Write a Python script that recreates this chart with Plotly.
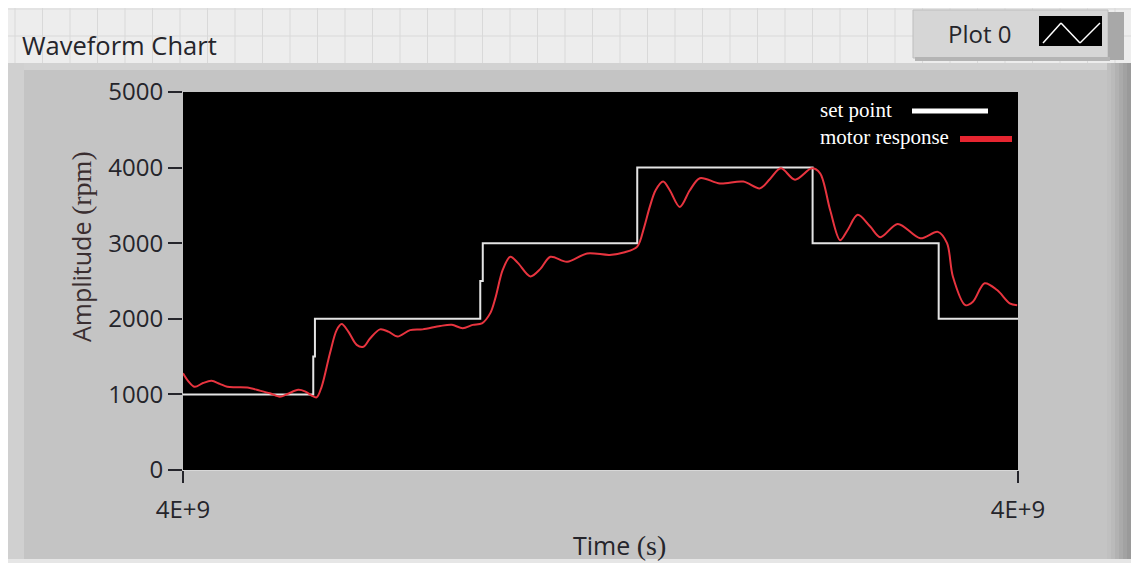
import plotly.graph_objects as go

# ---- data -------------------------------------------------------------
# time axis runs 0..100 (relative units); both ends are labelled with the timestamp
time_ticks = [0, 100]
time_tick_labels = ["4E+9", "4E+9"]
rpm_ticks = [0, 1000, 2000, 3000, 4000, 5000]

setpoint_t = [0.0, 15.6, 15.6, 15.8, 15.8, 35.6, 35.6, 35.9, 35.9,
              54.4, 54.4, 75.4, 75.4, 90.5, 90.5, 100.0]
setpoint_rpm = [1000, 1000, 1500, 1500, 2000, 2000, 2500, 2500, 3000,
                3000, 4000, 4000, 3000, 3000, 2000, 2000]

response_t = [0.0, 0.6, 1.4, 2.4, 3.4, 4.4, 5.3, 6.5, 7.7, 9.2, 10.4, 11.6,
              12.5, 13.8, 14.6, 15.4, 16.0, 16.6, 17.6, 18.4, 19.0, 19.8,
              20.8, 21.6, 22.4, 23.6, 24.6, 25.7, 27.2, 28.7, 30.8, 32.2,
              33.5, 34.7, 35.8, 36.8, 37.4, 38.3, 39.2, 40.1, 41.6, 42.8,
              44.0, 46.0, 48.4, 51.1, 52.9, 54.4, 55.2, 55.9, 56.6, 57.5,
              58.3, 59.5, 60.7, 61.9, 64.3, 67.1, 69.1, 70.3, 71.6, 73.3,
              75.3, 76.3, 77.5, 78.7, 79.6, 80.8, 82.3, 83.5, 85.6, 88.3,
              90.4, 91.5, 92.2, 93.7, 94.6, 96.0, 97.5, 99.0, 99.9]
response_rpm = [1280, 1180, 1100, 1150, 1180, 1140, 1100, 1095, 1090, 1050,
                1015, 970, 1005, 1060, 1040, 985, 960, 1100, 1545, 1850,
                1930, 1830, 1655, 1630, 1740, 1860, 1830, 1765, 1850, 1860,
                1905, 1920, 1875, 1920, 1940, 2075, 2270, 2650, 2820, 2740,
                2560, 2660, 2820, 2755, 2865, 2845, 2880, 2955, 3200, 3480,
                3700, 3815, 3700, 3480, 3700, 3860, 3790, 3815, 3725, 3850,
                3990, 3840, 3990, 3925, 3440, 3040, 3175, 3375, 3220, 3080,
                3255, 3065, 3150, 3000, 2560, 2180, 2225, 2470, 2380, 2205,
                2180]

# ---- page geometry (pixels) -------------------------------------------
FIG_W, FIG_H = 1131, 563
L, R, T, B = 183, 1018, 92, 470


def px(x):
    return (x - L) / (R - L)


def py(y):
    return (B - y) / (B - T)


FRAME = "#c4c4c4"
PANEL = "#ededed"
GRIDC = "#d9d9d9"
TEXT = "#25252b"
SANS = "Open Sans"
SERIF = "Liberation Serif"

fig = go.Figure()
fig.add_trace(go.Scatter(x=setpoint_t, y=setpoint_rpm, mode="lines",
                         line=dict(color="#e4e4e4", width=2),
                         name="set point", showlegend=False))
fig.add_trace(go.Scatter(x=response_t, y=response_rpm, mode="lines",
                         line=dict(color="#e8343f", width=2, shape="spline",
                                   smoothing=0.9),
                         name="motor response", showlegend=False))

shapes = []


def rect(x0, y0, x1, y1, color, layer="below", line=None):
    shapes.append(dict(type="rect", xref="paper", yref="paper",
                       x0=px(x0), x1=px(x1), y0=py(y0), y1=py(y1),
                       fillcolor=color, layer=layer,
                       line=line or dict(width=0)))


def seg(x0, y0, x1, y1, color, width=1, layer="below"):
    shapes.append(dict(type="line", xref="paper", yref="paper",
                       x0=px(x0), x1=px(x1), y0=py(y0), y1=py(y1),
                       line=dict(color=color, width=width), layer=layer))


# white page edge, front-panel grid strip above the chart frame
rect(0, 0, FIG_W, 8, "#ffffff")
rect(0, 0, 8, FIG_H, "#ffffff")
rect(8, 8, FIG_W, 63, PANEL)
gx = 15.0
while gx < FIG_W:
    seg(gx, 8, gx, 63, GRIDC)
    gx += 27.5
for gy in (9, 36):
    seg(8, gy, FIG_W, gy, GRIDC)
# frame bevels
rect(8, 63, FIG_W, 70, "#d2d2d2")
rect(8, 63, 24, FIG_H, "#d0d0d0")
steps = ["#c0c0c0", "#bababa", "#b2b2b2", "#aaaaaa", "#a2a2a2", "#9a9a9a"]
for i, c in enumerate(steps):
    rect(1107 + i * 4, 63, 1111 + i * 4, FIG_H, c)
rect(8, 559, FIG_W, FIG_H, "#e6e6e6")

# plot legend box in the top-right corner
rect(913, 10, 1108, 58, "#d6d6d6", layer="above",
     line=dict(color="#bdbdbd", width=1))
rect(1108, 12, 1124, 60, "#a8a8a8", layer="above")
rect(915, 57, 1110, 61, "#b4b4b4", layer="above")
rect(1039, 16, 1102, 46, "#000000", layer="above")
for (a, b, c, d) in [(1043, 43, 1061, 23), (1061, 23, 1080, 43),
                     (1080, 43, 1100, 23)]:
    seg(a, b, c, d, "#ffffff", 1.5, "above")

# in-plot key
shapes.append(dict(type="line", xref="paper", yref="paper",
                   x0=px(912), x1=px(988), y0=py(111), y1=py(111),
                   line=dict(color="#ffffff", width=5), layer="above"))
shapes.append(dict(type="line", xref="paper", yref="paper",
                   x0=px(960), x1=px(1012), y0=py(139), y1=py(139),
                   line=dict(color="#e62530", width=6), layer="above"))


def note(text, x, y, family, size, color, xanchor="center", angle=0):
    return dict(text=text, x=px(x), y=py(y), xref="paper", yref="paper",
                xanchor=xanchor, yanchor="middle", textangle=angle,
                showarrow=False, font=dict(family=family, size=size,
                                           color=color))


annotations = [
    note("Waveform Chart", 20, 45, SANS, 25.5, TEXT, "left"),
    note("Plot 0", 979, 34, SANS, 24, TEXT),
    note("set point", 818, 110, SERIF, 21, "#ffffff", "left"),
    note("motor response", 818, 137, SERIF, 21, "#ffffff", "left"),
    note("Amplitude <span style='font-family:Liberation Serif;"
         "font-size:28px'>(rpm)</span>",
         81, 247, SANS, 25, "#3a2e30", angle=-90),
    note("Time <span style='font-family:Liberation Serif;"
         "font-size:28px'>(s)</span>",
         619, 545, SANS, 25, TEXT),
]

fig.update_layout(
    width=FIG_W, height=FIG_H,
    margin=dict(l=L, r=FIG_W - R, t=T, b=FIG_H - B, pad=0),
    paper_bgcolor=FRAME, plot_bgcolor="#000000",
    shapes=shapes, annotations=annotations, showlegend=False,
    xaxis=dict(range=[0, 100], tickvals=time_ticks, ticktext=time_tick_labels,
               showgrid=False, zeroline=False, ticks="outside", ticklen=12,
               tickwidth=2, tickcolor=TEXT, showline=True,
               linecolor="#d8d8d8", linewidth=1, ticklabelstandoff=6,
               tickfont=dict(family=SANS, size=24, color=TEXT)),
    yaxis=dict(range=[0, 5000], tickvals=rpm_ticks, showgrid=False,
               zeroline=False, ticks="outside", ticklen=14, tickwidth=2,
               tickcolor=TEXT, showline=False,
               tickfont=dict(family=SANS, size=24, color=TEXT)),
)

fig.write_html("out.html")
